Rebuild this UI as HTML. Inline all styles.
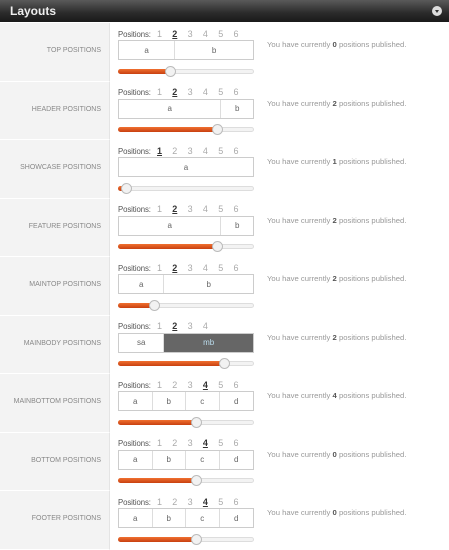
<!DOCTYPE html>
<html><head><meta charset="utf-8"><style>
body{margin:0;width:449px;height:550px;overflow:hidden;background:#fff;font-family:"Liberation Sans",sans-serif;position:relative}
.hdr{position:absolute;left:0;top:0;width:449px;height:22px;background:linear-gradient(#5a5a5a,#2a2a2a 60%,#1a1a1a)}
.hdr span{position:absolute;left:10px;top:4px;color:#eee;font-weight:bold;font-size:12px}
.tog{position:absolute;left:432px;top:6px;width:10px;height:10px;border-radius:50%;background:#ddd}
.tog:after{content:"";position:absolute;left:2.5px;top:3.5px;border:2.5px solid transparent;border-top:3px solid #333}
.lc{position:absolute;left:0;width:110px;background:#f3f3f3;border-right:1px solid #e4e4e4;border-bottom:1px solid #fff;box-sizing:border-box}
.lbl{position:absolute;right:8px;font-size:7px;color:#888;text-transform:uppercase}
.a{position:absolute}
.pos{font-size:7.8px;color:#555;letter-spacing:-0.1px}
.n{font-size:9px;color:#aaa}
.n.s{color:#333;font-weight:bold;text-decoration:underline}
.box{position:absolute;left:118px;width:136px;height:20px;border:1px solid #ccc;box-sizing:border-box;display:flex;background:#fff}
.seg{font-size:8px;color:#666;display:flex;align-items:center;justify-content:center;border-right:1px solid #ddd;height:100%;box-sizing:border-box}
.seg:last-child{border-right:none}
.track{position:absolute;left:118px;width:136px;height:5px;border-radius:3px;background:#f3f3f3;border:1px solid #ddd;box-sizing:border-box}
.fill{position:absolute;left:118px;height:5px;border-radius:3px;background:linear-gradient(#f07030,#c84010)}
.th{position:absolute;width:11px;height:11px;border-radius:50%;background:#f2f2f2;border:1px solid #bbb;box-sizing:border-box}
.msg{position:absolute;left:267px;font-size:7.7px;color:#999}
.msg b{color:#555}
</style></head><body>
<div class="hdr"><span>Layouts</span><div class="tog"></div></div>
<script>
const labels=["Top Positions","Header Positions","Showcase Positions","Feature Positions","Maintop Positions","Mainbody Positions","Mainbottom Positions","Bottom Positions","Footer Positions"];
const counts=[6,6,6,6,6,4,6,6,6];
const selected=[2,2,1,2,2,2,4,4,4];
const segNames=[["a","b"],["a","b"],["a"],["a","b"],["a","b"],["sa","mb"],["a","b","c","d"],["a","b","c","d"],["a","b","c","d"]];
const segWidths=[[57,79],[104,32],[136],[104,32],[46,90],[46,90],[34,34,34,34],[34,34,34,34],[34,34,34,34]];
const sliderVals=[52,99,8,99,36,106,78,78,78];
const published=[0,2,1,2,2,2,4,0,0];
const B=document.body;
function mk(cls,name,inter,st,html){const e=document.createElement('div');e.className=cls;


Object.assign(e.style,st||{});if(html!=null)e.innerHTML=html;B.appendChild(e);return e;}
const RH=58.5,T0=23;
labels.forEach((L,i)=>{
 const t=T0+i*RH;
 const lc=mk('lc','row-label-cell','false',{top:t+'px',height:RH+'px'});
 const lb=document.createElement('div');lb.className='lbl';lb.textContent=L;lb.style.top=(RH/2-5)+'px';
 
 
 lc.appendChild(lb);
 mk('a pos','positions-label','false',{left:'118px',top:(t+6.5)+'px'},'Positions:');
 for(let k=1;k<=counts[i];k++){
  mk('a n'+(k===selected[i]?' s':''),'position-option-'+k,'true',{left:(157+(k-1)*15.3)+'px',top:(t+5.5)+'px'},String(k));
 }
 const box=mk('box','positions-box','false',{top:(t+17)+'px'});
 segNames[i].forEach((s,j)=>{const d=document.createElement('div');d.className='seg';d.textContent=s;d.style.width=segWidths[i][j]+'px';
  if(i===5&&j===1){d.style.background='#666';d.style.color='#bde';}
  
  
  box.appendChild(d);});
 const ty=t+45.5;
 mk('track','slider-track','true',{top:ty+'px'});
 mk('fill','slider-fill','false',{top:ty+'px',width:sliderVals[i]+'px'});
 mk('th','slider-thumb','true',{left:(118+sliderVals[i]-5.5)+'px',top:(ty-3)+'px'});
 mk('msg','published-message','false',{top:(t+17)+'px'},'You have currently <b>'+published[i]+'</b> positions published.');
});
</script>
</body></html>
